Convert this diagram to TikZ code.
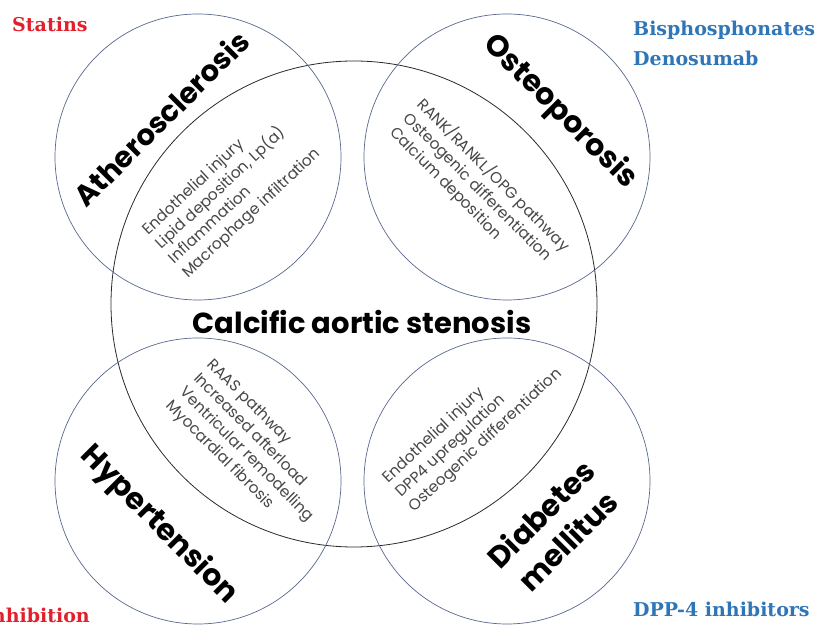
\documentclass[tikz,border=0pt]{standalone}
\usepackage{fontspec}
\newfontfamily\titlefont{Poppins}
\newfontfamily\smallfont{Poppins}
\newfontfamily\slabfont{DejaVu Serif}
\definecolor{ringblue}{HTML}{5A6890}
\definecolor{ringdark}{HTML}{2A2A2A}
\definecolor{drugred}{HTML}{E2202B}
\definecolor{drugblue}{HTML}{2F76B8}
\tikzset{
  ring/.style={circle, draw=ringblue, line width=0.7pt, inner sep=0pt, minimum size=286pt},
  bigring/.style={circle, draw=ringdark, line width=0.8pt, inner sep=0pt, minimum size=486pt},
  title/.style={font=\titlefont\bfseries\fontsize{30}{38}\selectfont, inner sep=0pt, align=center},
  body/.style={font=\smallfont\fontsize{15.5}{19.5}\selectfont, align=left, inner sep=0pt, text=black!72},
  drug/.style={font=\slabfont\bfseries\fontsize{19}{28}\selectfont, inner sep=0pt, align=left}
}
\begin{document}
\begin{tikzpicture}[x=1pt,y=1pt]
\useasboundingbox (0,0) rectangle (833,626);
\fill[white] (0,0) rectangle (833,626);
% circles
\node[bigring] (cas) at (354,322) {};
\node[ring] (ath) at (198,469) {};
\node[ring] (ost) at (507,469) {};
\node[ring] (hyp) at (198,145) {};
\node[ring] (dia) at (507,145) {};
% titles
\node[title, font=\titlefont\bfseries\fontsize{29}{34}\selectfont] (casT) at (362,304) {Calcific aortic stenosis};
\node[title, font=\titlefont\bfseries\fontsize{29}{34}\selectfont, rotate=45] (athT) at (161,508) {Atherosclerosis};
\node[title, rotate=-45] (ostT) at (560,514) {Osteoporosis};
\node[title, rotate=-45] (hypT) at (159,101) {Hypertension};
\node[title, rotate=45] (diaT) at (554,99) {Diabetes\\mellitus};
% intersection texts
\node[body, rotate=43, anchor=north west] (athB) at (140,399)
  {Endothelial injury\\Lipid deposition, Lp(a)\\Inflammation\\Macrophage infiltration};
\node[body, rotate=-45, anchor=north west] (ostB) at (427,531)
  {RANK/RANKL/OPG pathway\\Osteogenic differentiation\\Calcium deposition};
\node[body, rotate=-45, anchor=north west] (hypB) at (215,269)
  {RAAS pathway\\Increased afterload\\Ventricular remodelling\\Myocardial fibrosis};
\node[body, rotate=43, anchor=north west] (diaB) at (380,151)
  {Endothelial injury\\DPP4 upregulation\\Osteogenic differentiation};
% drugs
\node[drug, text=drugred, anchor=west] (statins) at (12,602) {Statins};
\node[drug, text=drugblue, anchor=west] (bisp) at (633,596) {Bisphosphonates};
\node[drug, text=drugblue, anchor=west] (deno) at (633,568) {Denosumab};
\node[drug, text=drugblue, anchor=west] (dpp) at (633,17) {DPP-4 inhibitors};
\node[drug, text=drugred, anchor=east] (raas) at (90,11) {inhibition};
\end{tikzpicture}
\end{document}
